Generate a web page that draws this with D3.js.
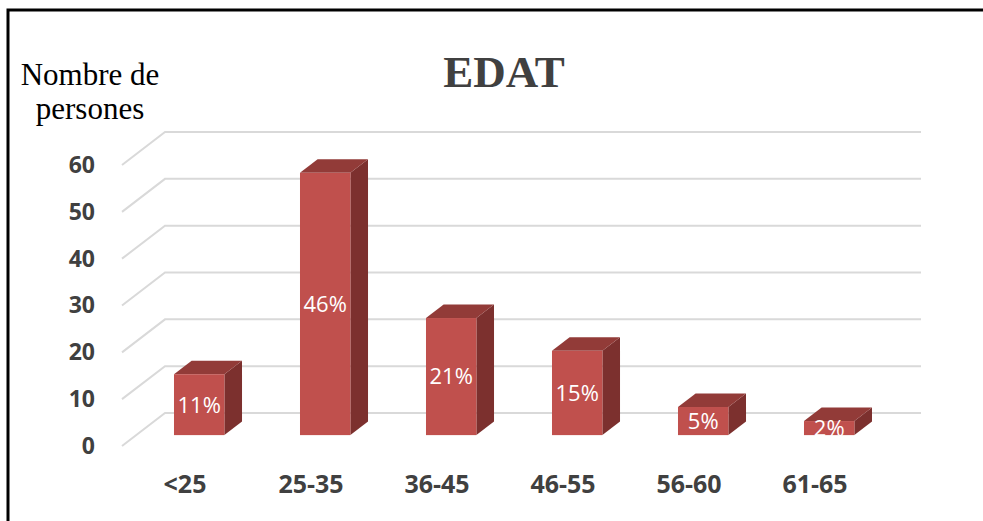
<!DOCTYPE html>
<html>
<head>
<meta charset="utf-8">
<script src="https://cdn.jsdelivr.net/npm/d3@7"></script>
<style>
  body { margin: 0; background: #fff; }
  svg { display: block; }
</style>
</head>
<body>
<script>
// data
const categories = ['<25', '25-35', '36-45', '46-55', '56-60', '61-65'];
const persons = [13, 56, 25, 18, 6, 3];
const shares = ['11%', '46%', '21%', '15%', '5%', '2%'];
const yTicks = [0, 10, 20, 30, 40, 50, 60];

const width = 983;
const height = 521;

const svg = d3.select('body')
  .append('svg')
  .attr('width', width)
  .attr('height', height);

// frame (left + top edges only)
svg.append('path')
  .attr('d', 'M8,521V10H983')
  .attr('fill', 'none')
  .attr('stroke', '#000')
  .attr('stroke-width', 3);

// scales on the front plane
const x = d3.scaleBand()
  .domain(categories)
  .range([122, 878]);

const y = d3.scaleLinear()
  .domain([0, 60])
  .range([446, 165]);

// depth of the 3d box
const depthX = 43;
const depthY = -33;
const barFront = 0.33;
const barBack = 0.74;

// gridlines: side wall diagonal + back wall horizontal
const grid = svg.append('g');
yTicks.forEach(v => {
  const y0 = y(v);
  grid.append('path')
    .attr('d', `M${x.range()[0]},${y0}L${x.range()[0] + depthX},${y0 + depthY}H${x.range()[1] + depthX}`)
    .attr('fill', 'none')
    .attr('stroke', '#d9d9d9')
    .attr('stroke-width', 2);
});

// bars
const barW = x.bandwidth() * 0.4;
const fx = depthX * barFront, fy = depthY * barFront;
const sx = depthX * (barBack - barFront), sy = depthY * (barBack - barFront);

const bars = svg.append('g');
categories.forEach((c, i) => {
  const left = x(c) + (x.bandwidth() - barW) / 2 + fx;
  const right = left + barW;
  const top = y(persons[i]) + fy;
  const bottom = y(0) + fy;

  // side face
  bars.append('path')
    .attr('d', `M${right},${top}L${right + sx},${top + sy}L${right + sx},${bottom + sy}L${right},${bottom}Z`)
    .attr('fill', '#7c302e');
  // top face
  bars.append('path')
    .attr('d', `M${left},${top}L${left + sx},${top + sy}L${right + sx},${top + sy}L${right},${top}Z`)
    .attr('fill', '#923b38');
  // front face
  bars.append('rect')
    .attr('x', left)
    .attr('y', top)
    .attr('width', barW)
    .attr('height', bottom - top)
    .attr('fill', '#c0504d');

  bars.append('text')
    .attr('x', left + barW / 2)
    .attr('y', (top + bottom) / 2)
    .attr('dy', '0.36em')
    .attr('text-anchor', 'middle')
    .attr('font-family', 'Open Sans, sans-serif')
    .attr('font-size', 22)
    .attr('fill', '#fff')
    .text(shares[i]);
});

// y axis
const yAxis = svg.append('g')
  .attr('transform', `translate(${x.range()[0]},0)`)
  .call(d3.axisLeft(y).tickValues(yTicks).tickSize(0).tickPadding(27));
yAxis.select('.domain').remove();
yAxis.selectAll('text')
  .attr('font-family', 'Open Sans, sans-serif')
  .attr('font-weight', 700)
  .attr('font-size', 23)
  .attr('fill', '#404040');

// x axis
const xAxis = svg.append('g')
  .attr('transform', `translate(0,${y(0)})`)
  .call(d3.axisBottom(x).tickSize(0).tickPadding(29));
xAxis.select('.domain').remove();
xAxis.selectAll('text')
  .attr('font-family', 'Open Sans, sans-serif')
  .attr('font-weight', 700)
  .attr('font-size', 25)
  .attr('fill', '#404040');

// title
svg.append('text')
  .attr('x', 504)
  .attr('y', 87)
  .attr('text-anchor', 'middle')
  .attr('font-family', 'Liberation Serif, Times New Roman, serif')
  .attr('font-weight', 700)
  .attr('font-size', 45)
  .attr('fill', '#404040')
  .text('EDAT');

// y axis title
const yTitle = svg.append('text')
  .attr('text-anchor', 'middle')
  .attr('font-family', 'Liberation Serif, Times New Roman, serif')
  .attr('font-size', 31)
  .attr('fill', '#000');
yTitle.append('tspan').attr('x', 90).attr('y', 85).text('Nombre de');
yTitle.append('tspan').attr('x', 90).attr('y', 119).text('persones');
</script>
</body>
</html>
